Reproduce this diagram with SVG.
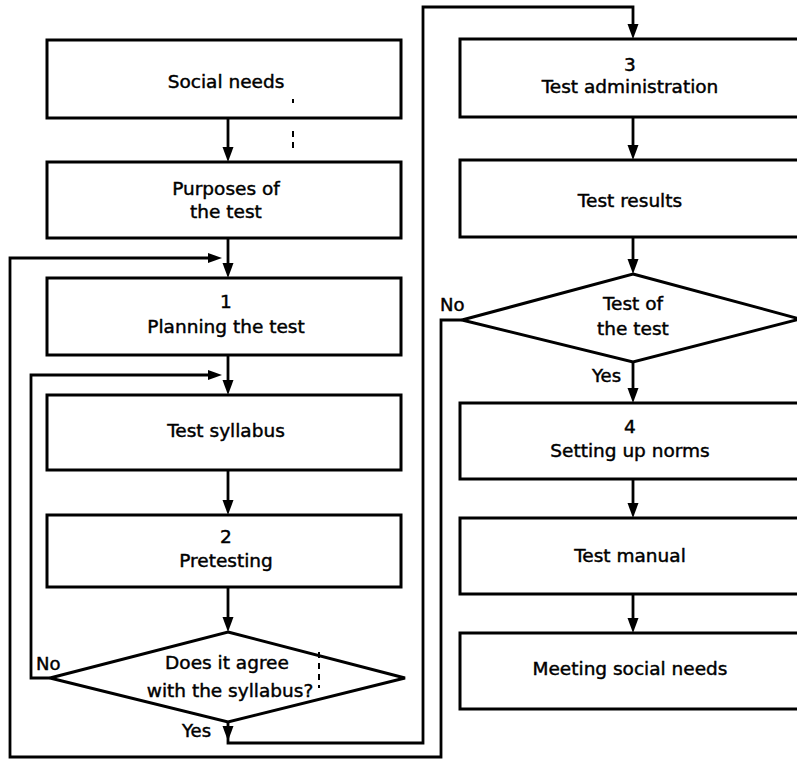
<svg xmlns="http://www.w3.org/2000/svg" width="797" height="761" viewBox="0 0 797 761">
  <style>
    .box { fill: #fff; stroke: #000; stroke-width: 3; }
    .dia { fill: #fff; stroke: #000; stroke-width: 3; stroke-linejoin: miter; }
    .wire { fill: none; stroke: #000; stroke-width: 2.8; stroke-linejoin: miter; }
    .head { fill: #000; }
    .lbl { font-family: "DejaVu Sans", "Liberation Sans", sans-serif; font-size: 18.5px; fill: #000; stroke: #000; stroke-width: 0.45; text-anchor: middle; }
    .tag { font-family: "DejaVu Sans", "Liberation Sans", sans-serif; font-size: 18px; fill: #000; stroke: #000; stroke-width: 0.45; }
    .mark { stroke: #000; stroke-width: 2; stroke-dasharray: 6 5; fill: none; }
  </style>
  <defs>
    <polygon id="down" class="head" points="-5.5,-15 5.5,-15 0,0"/>
    <polygon id="right" class="head" points="-14,-5 -14,5 0,0"/>
  </defs>
  <rect width="797" height="761" fill="#fff"/>

  <!-- connectors -->
  <g id="connectors">
    <!-- left column straight flow -->
    <line class="wire" x1="228" y1="118" x2="228" y2="150"/>
    <use href="#down" x="228" y="162"/>
    <line class="wire" x1="228" y1="238" x2="228" y2="266"/>
    <use href="#down" x="228" y="278"/>
    <line class="wire" x1="228" y1="355" x2="228" y2="383"/>
    <use href="#down" x="228" y="395"/>
    <line class="wire" x1="228" y1="470" x2="228" y2="503"/>
    <use href="#down" x="228" y="515"/>
    <line class="wire" x1="228" y1="587" x2="228" y2="620"/>
    <use href="#down" x="228" y="632"/>

    <!-- No: back to test syllabus -->
    <polyline class="wire" points="50,678 31,678 31,375 212,375"/>
    <use href="#right" x="222" y="375"/>

    <!-- Yes: on to test administration -->
    <polyline class="wire" points="228,722 228,743 423,743 423,7 633,7 633,28"/>
    <use href="#down" x="228" y="741"/>
    <use href="#down" x="633" y="39"/>

    <!-- No from test of the test: back to planning -->
    <polyline class="wire" points="462,320 441,320 441,757 10,757 10,258 212,258"/>
    <use href="#right" x="222" y="258"/>

    <!-- right column straight flow -->
    <line class="wire" x1="633" y1="117" x2="633" y2="148"/>
    <use href="#down" x="633" y="160"/>
    <line class="wire" x1="633" y1="237" x2="633" y2="262"/>
    <use href="#down" x="633" y="274"/>
    <line class="wire" x1="633" y1="362" x2="633" y2="391"/>
    <use href="#down" x="633" y="403"/>
    <line class="wire" x1="633" y1="479" x2="633" y2="506"/>
    <use href="#down" x="633" y="518"/>
    <line class="wire" x1="633" y1="594" x2="633" y2="621"/>
    <use href="#down" x="633" y="633"/>
  </g>

  <!-- left column -->
  <g id="social-needs">
    <rect class="box" x="47" y="40" width="354" height="78"/>
    <text class="lbl" x="226" y="88">Social needs</text>
  </g>
  <g id="purposes">
    <rect class="box" x="47" y="162" width="354" height="76"/>
    <text class="lbl" x="226" y="195">Purposes of</text>
    <text class="lbl" x="226" y="218">the test</text>
  </g>
  <g id="planning">
    <rect class="box" x="47" y="278" width="354" height="77"/>
    <text class="lbl" x="226" y="308">1</text>
    <text class="lbl" x="226" y="333">Planning the test</text>
  </g>
  <g id="syllabus">
    <rect class="box" x="47" y="395" width="354" height="75"/>
    <text class="lbl" x="226" y="437">Test syllabus</text>
  </g>
  <g id="pretesting">
    <rect class="box" x="47" y="515" width="354" height="72"/>
    <text class="lbl" x="226" y="543">2</text>
    <text class="lbl" x="226" y="567">Pretesting</text>
  </g>
  <g id="agree">
    <polygon class="dia" points="228,632 405,678 228,722 50,678"/>
    <text class="lbl" x="227" y="669">Does it agree</text>
    <text class="lbl" x="230" y="697">with the syllabus?</text>
    <text class="tag" x="36" y="670">No</text>
    <text class="tag" x="182" y="737">Yes</text>
  </g>

  <!-- right column -->
  <g id="administration">
    <rect class="box" x="460" y="39" width="345" height="78"/>
    <text class="lbl" x="630" y="71">3</text>
    <text class="lbl" x="630" y="93">Test administration</text>
  </g>
  <g id="results">
    <rect class="box" x="460" y="160" width="345" height="77"/>
    <text class="lbl" x="630" y="207">Test results</text>
  </g>
  <g id="test-of-test">
    <polygon class="dia" points="633,274 800,319 633,362 462,320"/>
    <text class="lbl" x="633" y="310">Test of</text>
    <text class="lbl" x="633" y="335">the test</text>
    <text class="tag" x="440" y="311">No</text>
    <text class="tag" x="592" y="382">Yes</text>
  </g>
  <g id="norms">
    <rect class="box" x="460" y="403" width="345" height="76"/>
    <text class="lbl" x="630" y="433">4</text>
    <text class="lbl" x="630" y="457">Setting up norms</text>
  </g>
  <g id="manual">
    <rect class="box" x="460" y="518" width="345" height="76"/>
    <text class="lbl" x="630" y="562">Test manual</text>
  </g>
  <g id="meeting">
    <rect class="box" x="460" y="633" width="345" height="76"/>
    <text class="lbl" x="630" y="675">Meeting social needs</text>
  </g>

  <!-- stray dashed ticks -->
  <g id="ticks">
    <line class="mark" x1="293" y1="99" x2="293" y2="103"/>
    <line class="mark" x1="293" y1="131" x2="293" y2="151"/>
    <line class="mark" x1="319" y1="652" x2="319" y2="688"/>
  </g>
</svg>
